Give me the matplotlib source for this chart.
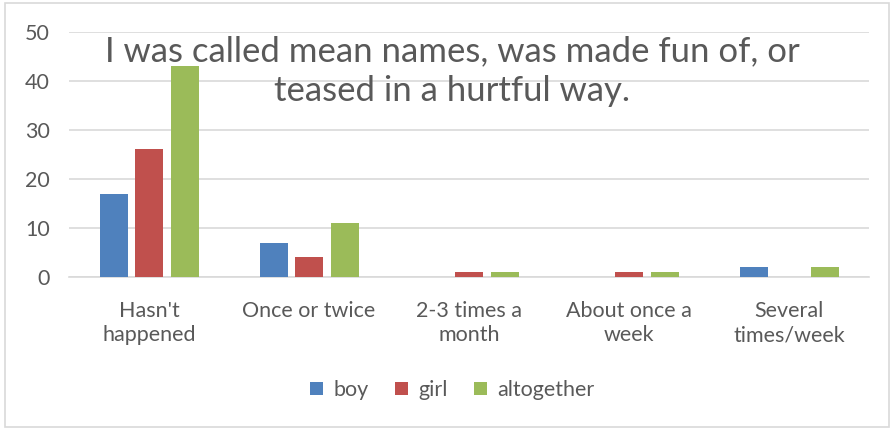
import matplotlib.pyplot as plt
import numpy as np
from matplotlib.patches import Rectangle

categories = ["Hasn't\nhappened", "Once or twice", "2-3 times a\nmonth",
              "About once a\nweek", "Several\ntimes/week"]
boy = [17, 7, 0, 0, 2]
girl = [26, 4, 1, 1, 0]
altogether = [43, 11, 1, 1, 2]
series_names = ["boy", "girl", "altogether"]
colors = ["#4F81BD", "#C0504D", "#9BBB59"]
title = "I was called mean names, was made fun of, or\nteased in a hurtful way."

def main():
    plt.rcParams['font.family'] = ['Lato', 'DejaVu Sans']
    text_col = "#595959"

    fig = plt.figure(figsize=(8.94, 4.3), dpi=100)
    ax = fig.add_axes([0.0772, 0.356, 0.895, 0.57])

    x = np.arange(len(categories))
    w = 0.175
    step = 0.222
    for i, (vals, name) in enumerate(zip([boy, girl, altogether], series_names)):
        ax.bar(x + (i - 1) * step, vals, width=w, color=colors[i], label=name, zorder=3)

    ax.set_xlim(-0.5, len(categories) - 0.5)
    ax.set_ylim(0, 50)
    ax.set_yticks(range(0, 51, 10))
    ax.yaxis.grid(True, color="#D9D9D9", linewidth=1.2, zorder=0)
    ax.set_xticks(x)
    ax.set_xticklabels(categories, linespacing=1.3)
    ax.tick_params(axis='y', length=0, pad=14, labelsize=15.5, labelcolor=text_col)
    ax.tick_params(axis='x', length=0, pad=17, labelsize=15.5, labelcolor=text_col)
    for s in ['top', 'right', 'left']:
        ax.spines[s].set_visible(False)
    ax.spines['bottom'].set_color("#D9D9D9")
    ax.spines['bottom'].set_linewidth(1.2)

    fig.text(0.506, 0.835, title, ha='center', va='center', fontsize=25,
             color=text_col, linespacing=1.3)

    fig.legend(loc='center', bbox_to_anchor=(0.506, 0.093), ncol=3, frameon=False,
               fontsize=15.5, labelcolor=text_col, handlelength=0.6, handleheight=0.6,
               handletextpad=0.5, columnspacing=1.2)

    fig.patches.append(Rectangle((0.006, 0.006), 0.988, 0.986, transform=fig.transFigure,
                                 fill=False, edgecolor="#D9D9D9", linewidth=1.2))

    plt.savefig("out.png", dpi=100)

if __name__ == "__main__":
    main()
